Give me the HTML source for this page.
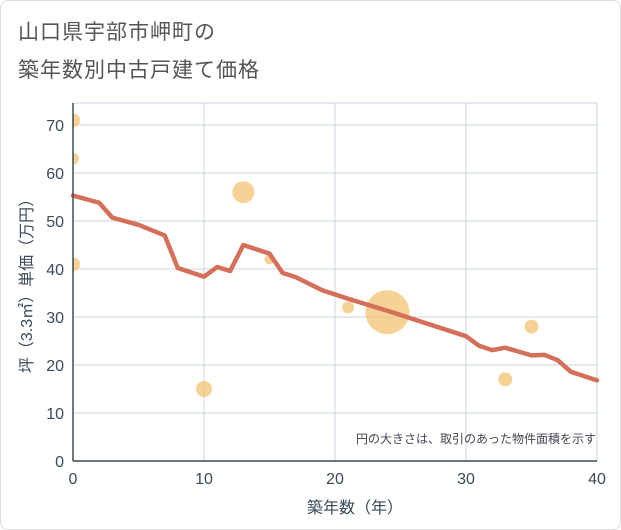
<!DOCTYPE html>
<html><head><meta charset="utf-8"><style>
body{margin:0;background:#fff;}
#card{position:absolute;left:0;top:0;width:619px;height:528px;border:1px solid #ddd;border-radius:8px;background:#fff;}
.t{position:absolute;left:18px;font:21px "Liberation Sans","Noto Sans CJK JP",sans-serif;color:#555;letter-spacing:1px;}
svg text{font-family:"Liberation Sans","Noto Sans CJK JP",sans-serif;}
</style></head><body>
<div id="card"></div>
<div class="t" style="top:16px">山口県宇部市岬町の</div>
<div class="t" style="top:54px">築年数別中古戸建て価格</div>
<svg id="chart" width="621" height="530" style="position:absolute;left:0;top:0">
<defs><clipPath id="clip"><rect x="73" y="103" width="524" height="358"/></clipPath></defs>
<g id="grid"></g><g id="bubbles" clip-path="url(#clip)"></g><g id="line"></g><g id="axes"></g>
<text x="596" y="443" text-anchor="end" font-size="12" fill="#445">円の大きさは、取引のあった物件面積を示す</text>
<text x="355" y="513" text-anchor="middle" font-size="16" fill="#3a4a5a">築年数（年）</text>
<text transform="translate(32,282) rotate(-90)" text-anchor="middle" font-size="16" fill="#3a4a5a">坪（3.3㎡）単価（万円）</text>
</svg>
<script>
const xTicks=[0,10,20,30,40];
const yTicks=[0,10,20,30,40,50,60,70];
const lineYears=[0,2,3,5,7,8,10,11,12,13,15,16,17,19,21,24,30,31,32,33,35,36,37,38,40];
const linePrices=[55.3,53.8,50.7,49.2,47.0,40.2,38.4,40.4,39.6,45.0,43.2,39.2,38.3,35.6,33.8,31.3,26.0,24.0,23.1,23.6,22.0,22.1,21.0,18.6,16.8];
const bubbleYears=[0,0,0,10,13,15,21,24,33,35];
const bubblePrices=[71,63,41,15,56,42,32,31,17,28];
const bubbleSizes=[7,6,7,8,11,5,6,22,7,7];
const NS="http://www.w3.org/2000/svg";
const X=v=>73+v*(524/40), Y=v=>461-v*4.8;
function mk(tag,attrs,parent){const e=document.createElementNS(NS,tag);for(const k in attrs)e.setAttribute(k,attrs[k]);document.getElementById(parent).appendChild(e);return e;}
xTicks.forEach(t=>{
 const l=mk('line',{x1:X(t),x2:X(t),y1:103,y2:461,stroke:'#c9d6e2','stroke-width':1},'grid');
 
 
 const tx=mk('text',{x:X(t),y:484,'text-anchor':'middle','font-size':16,fill:'#3a4a5a'},'axes');tx.textContent=t;
 
 
});
mk('line',{x1:597,x2:597,y1:103,y2:461,stroke:'#c9d6e2'},'grid');
yTicks.forEach(t=>{
 const l=mk('line',{x1:73,x2:597,y1:Y(t),y2:Y(t),stroke:'#c9d6e2','stroke-width':1},'grid');
 
 
 const tx=mk('text',{x:64,y:Y(t)+6,'text-anchor':'end','font-size':16,fill:'#3a4a5a'},'axes');tx.textContent=t;
 
 
});
mk('line',{x1:73,x2:597,y1:103,y2:103,stroke:'#c9d6e2'},'grid');
const ax=mk('line',{x1:73,x2:73,y1:103,y2:461,stroke:'#3a4a5a','stroke-width':1.5},'axes');


const ax2=mk('line',{x1:73,x2:597,y1:461,y2:461,stroke:'#3a4a5a','stroke-width':1.5},'axes');


bubbleYears.forEach((yr,i)=>{
 const c=mk('circle',{cx:X(yr),cy:Y(bubblePrices[i]),r:bubbleSizes[i],fill:'#f2bf6a','fill-opacity':0.7},'bubbles');
 
 
});
const p=mk('polyline',{points:lineYears.map((y,i)=>X(y)+','+Y(linePrices[i])).join(' '),fill:'none',stroke:'#d4705a','stroke-width':4.5,'stroke-linejoin':'round','stroke-linecap':'round'},'line');


</script>
</body></html>
